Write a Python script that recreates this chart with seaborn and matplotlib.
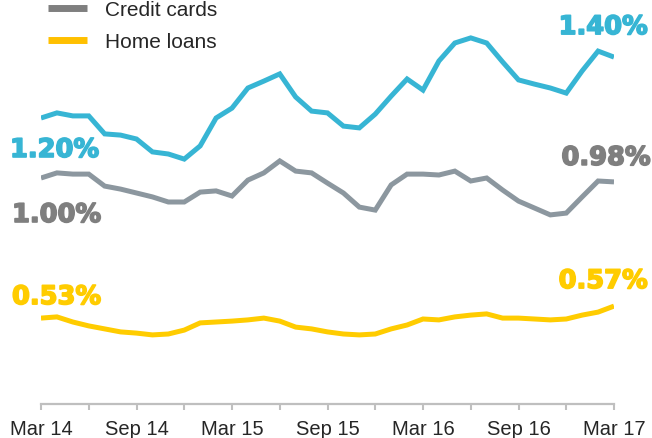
import matplotlib
matplotlib.use("Agg")
import matplotlib.pyplot as plt
from matplotlib.lines import Line2D
import matplotlib.patheffects as pe
import numpy as np
import pandas as pd
import seaborn as sns

# ---------------- data ----------------
months = list(range(37))  # Mar 14 .. Mar 17, monthly
tick_labels = ["Mar 14", "Sep 14", "Mar 15", "Sep 15", "Mar 16", "Sep 16", "Mar 17"]

personal_loans = [1.200, 1.217, 1.207, 1.207, 1.147, 1.143, 1.130, 1.087, 1.080, 1.063,
                  1.107, 1.200, 1.233, 1.300, 1.323, 1.347, 1.270, 1.223, 1.217, 1.173,
                  1.167, 1.213, 1.273, 1.330, 1.293, 1.390, 1.450, 1.467, 1.450, 1.387,
                  1.327, 1.313, 1.300, 1.283, 1.357, 1.423, 1.403]
credit_cards = [1.000, 1.017, 1.013, 1.013, 0.973, 0.963, 0.950, 0.937, 0.920, 0.920,
                0.953, 0.957, 0.940, 0.993, 1.017, 1.057, 1.023, 1.017, 0.983, 0.950,
                0.903, 0.893, 0.977, 1.013, 1.013, 1.010, 1.023, 0.990, 1.000, 0.960,
                0.923, 0.900, 0.877, 0.883, 0.937, 0.990, 0.987]
home_loans = [0.533, 0.537, 0.520, 0.507, 0.497, 0.487, 0.483, 0.477, 0.480, 0.493,
              0.517, 0.520, 0.523, 0.527, 0.533, 0.523, 0.503, 0.497, 0.487, 0.480,
              0.477, 0.480, 0.497, 0.510, 0.530, 0.527, 0.537, 0.543, 0.547, 0.533,
              0.533, 0.530, 0.527, 0.530, 0.543, 0.553, 0.573]

series_names = ["Personal loans", "Credit cards", "Home loans"]
start_labels = ["1.20%", "1.00%", "0.53%"]
end_labels = ["1.40%", "0.98%", "0.57%"]

df = pd.concat([
    pd.DataFrame({"month": months, "value": personal_loans, "series": "Personal loans"}),
    pd.DataFrame({"month": months, "value": credit_cards, "series": "Credit cards"}),
    pd.DataFrame({"month": months, "value": home_loans, "series": "Home loans"}),
], ignore_index=True)

# ---------------- style ----------------
sns.set_style("white")
plt.rcParams["font.family"] = ["Liberation Sans", "DejaVu Sans"]

line_colors = {"Personal loans": "#37B5D4", "Credit cards": "#8C979F", "Home loans": "#FFCC00"}
label_colors = {"Personal loans": "#37B5D4", "Credit cards": "#7F7F7F", "Home loans": "#FFCC00"}

W, H = 652, 439
fig = plt.figure(figsize=(W / 100, H / 100), dpi=100)
x_left, x_right = 41, 614
y_top, y_bot = 5, 405
ax = fig.add_axes([x_left / W, (H - y_bot) / H, (x_right - x_left) / W, (y_bot - y_top) / H])

sns.lineplot(data=df, x="month", y="value", hue="series", palette=line_colors,
             linewidth=3.6, legend=False, ax=ax)
for ln in ax.lines:
    ln.set_solid_joinstyle("miter")
    ln.set_solid_capstyle("butt")

# pixel -> value mapping of the reference
def px2val(y):
    return 1.20 + (119 - y) / 300.0

ax.set_xlim(0, 36)
ax.set_ylim(px2val(y_bot), px2val(y_top))

for s in ["top", "right", "left"]:
    ax.spines[s].set_visible(False)
ax.spines["bottom"].set_color("#BFBFBF")
ax.spines["bottom"].set_linewidth(1.6)

ax.set_xticks(range(0, 37, 6))
ax.set_xticklabels(tick_labels)
ax.set_xticks(range(3, 36, 6), minor=True)
ax.tick_params(axis="x", which="both", direction="out", length=4.5, width=1.5,
               color="#BFBFBF", bottom=True)
ax.tick_params(axis="x", which="major", labelsize=14.5, labelcolor="#262626", pad=6)
ax.set_yticks([])
ax.set_xlabel("")
ax.set_ylabel("")

# ---------------- value labels ----------------
series_vals = [personal_loans, credit_cards, home_loans]
start_offsets = [(-31, -32), (-29, -37), (-29, 21)]
end_offsets = [(34, 30), (37, 24), (34, 25)]
for name, vals, sl, el, so, eo in zip(series_names, series_vals, start_labels,
                                      end_labels, start_offsets, end_offsets):
    c = label_colors[name]
    effects = [pe.withStroke(linewidth=1.2, foreground=c)]
    ax.annotate(sl, xy=(months[0], vals[0]), xytext=so, textcoords="offset pixels",
                ha="left", va="center", fontsize=18.5, fontweight="bold",
                family="DejaVu Sans", color=c, annotation_clip=False,
                path_effects=effects)
    ax.annotate(el, xy=(months[-1], vals[-1]), xytext=eo, textcoords="offset pixels",
                ha="right", va="center", fontsize=18.5, fontweight="bold",
                family="DejaVu Sans", color=c, annotation_clip=False,
                path_effects=effects)

# ---------------- legend ----------------
handles = [Line2D([0], [0], color="#7F7F7F", lw=5, solid_capstyle="butt"),
           Line2D([0], [0], color="#FFC000", lw=5, solid_capstyle="butt")]
fig.legend(handles, ["Credit cards", "Home loans"], loc="upper left",
           bbox_to_anchor=(48 / W, (H - 1) / H), frameon=False, fontsize=15,
           handlelength=1.85, handletextpad=0.9, labelspacing=0.62,
           borderpad=0, borderaxespad=0)

fig.savefig("out.png", dpi=100)
